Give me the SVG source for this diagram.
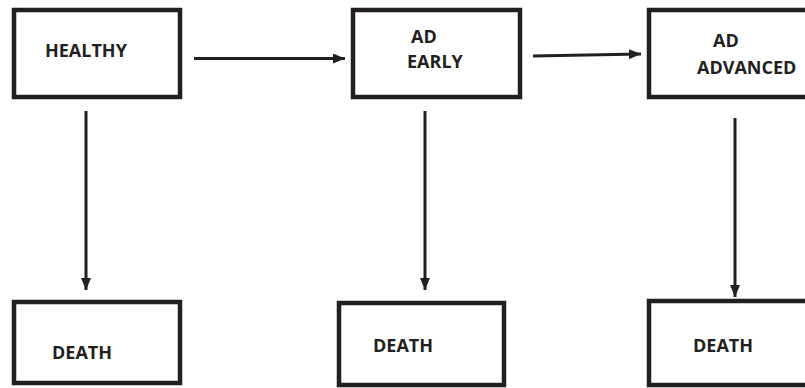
<svg xmlns="http://www.w3.org/2000/svg" width="805" height="388" viewBox="0 0 805 388">
<style>
.box{fill:#fff;stroke:#231f20;stroke-width:4.5}
.lbl{font-family:"Open Sans","Liberation Sans",sans-serif;font-weight:bold;font-size:18px;fill:#231f20}
.conn{stroke:#231f20;stroke-width:3;fill:none;marker-end:url(#ah)}
</style>
<defs>
<marker id="ah" markerUnits="userSpaceOnUse" markerWidth="12" markerHeight="10" refX="12" refY="5" orient="auto">
<polygon points="0,0 12,5 0,10" fill="#231f20"/>
</marker>
</defs>
<rect width="805" height="388" fill="#fff"/>
<g id="connectors">
<line class="conn" x1="194" y1="58.5" x2="345" y2="58.5"/>
<line class="conn" x1="533" y1="56" x2="641" y2="54"/>
<line class="conn" x1="86" y1="111" x2="86" y2="290"/>
<line class="conn" x1="425" y1="111" x2="425" y2="290"/>
<line class="conn" x1="735" y1="118" x2="735" y2="297"/>
</g>
<g id="healthy">
<rect class="box" x="14" y="10" width="166" height="87"/>
<text class="lbl" x="45" y="57">HEALTHY</text>
</g>
<g id="ad-early">
<rect class="box" x="353" y="10" width="167" height="87"/>
<text class="lbl" x="411" y="43">AD</text>
<text class="lbl" x="407" y="68">EARLY</text>
</g>
<g id="ad-advanced">
<rect class="box" x="649" y="10" width="170" height="87"/>
<text class="lbl" x="713" y="47">AD</text>
<text class="lbl" x="697" y="74">ADVANCED</text>
</g>
<g id="death-1">
<rect class="box" x="14" y="302" width="166" height="81"/>
<text class="lbl" x="52" y="359">DEATH</text>
</g>
<g id="death-2">
<rect class="box" x="339" y="303" width="165" height="82"/>
<text class="lbl" x="373" y="352">DEATH</text>
</g>
<g id="death-3">
<rect class="box" x="649" y="301" width="170" height="84"/>
<text class="lbl" x="693" y="352">DEATH</text>
</g>
</svg>
